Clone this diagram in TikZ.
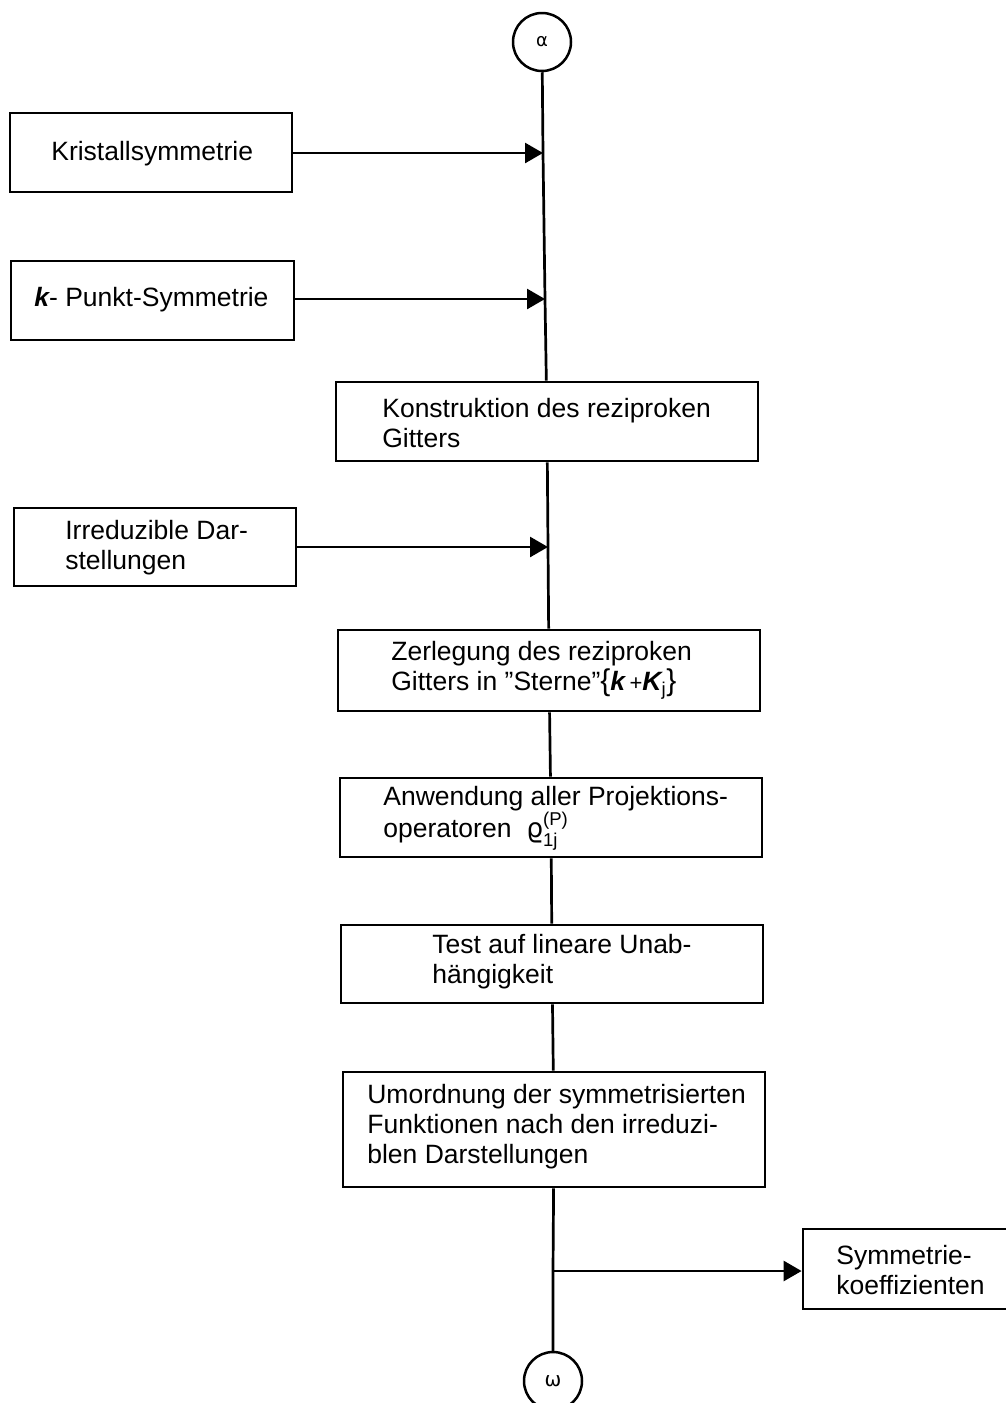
\documentclass[tikz,border=0pt]{standalone}
\usepackage{fontspec}
\usepackage{amsmath}
\setmainfont{Liberation Sans}
\newfontfamily\dvs{DejaVu Sans}
\usetikzlibrary{arrows.meta}
\begin{document}
\begin{tikzpicture}[x=1pt,y=-1pt, line width=2.7pt,
  box/.style={draw, rectangle, inner sep=0pt, line width=2.8pt},
  txt/.style={anchor=west, align=left, inner sep=0pt, font=\fontsize{26.5}{30}\selectfont},
  circ/.style={draw, circle, minimum size=58pt, inner sep=0pt, line width=2.5pt},
  arr/.style={-{Triangle[length=18pt,width=20pt]}}]
\useasboundingbox (0,0) rectangle (1006,1403);

% start / end circles
\node[circ] (alpha) at (542,42) {\dvs\fontsize{18}{18}\selectfont α};
\node[circ] (omega) at (553,1381) {\dvs\fontsize{20}{20}\selectfont ω};

% boxes
\node[box, minimum width=282pt, minimum height=79pt] (b1) at (151,152.5) {};
\node[box, minimum width=283pt, minimum height=79pt] (b2) at (152.5,300.5) {};
\node[box, minimum width=422pt, minimum height=79pt] (b3) at (547,421.5) {};
\node[box, minimum width=282pt, minimum height=78pt] (b4) at (155,547) {};
\node[box, minimum width=422pt, minimum height=81pt] (b5) at (549,670.5) {};
\node[box, minimum width=422pt, minimum height=79pt] (b6) at (551,817.5) {};
\node[box, minimum width=422pt, minimum height=78pt] (b7) at (552,964) {};
\node[box, minimum width=422pt, minimum height=115pt] (b8) at (554,1129.5) {};
\node[box, minimum width=209pt, minimum height=80pt] (b9) at (907.5,1269) {};

% texts
\node[txt] (t1) at (50,154) {Kristallsymmetrie};
\node[txt] (t2) at (33,300) {{\bfseries\itshape k}- Punkt-Symmetrie};
\node[txt] (t3) at (381,423) {Konstruktion des reziproken\\Gitters};
\node[txt] (t4) at (64,548) {Irreduzible Dar-\\stellungen};
\node[txt] (t5) at (390,670) {Zerlegung des reziproken\\Gitters in ''Sterne''{\fontsize{30}{30}\selectfont\{}{\bfseries\itshape k}\,{\fontsize{22}{22}\selectfont +}{\bfseries\itshape K}\textsubscript{j}{\fontsize{30}{30}\selectfont\}}};
\node[txt] (t6) at (382,818) {Anwendung aller Projektions-\\operatoren\ \ {\dvs ϱ}$^{\text{(P)}}_{\text{1j}}$};
\node[txt] (t7) at (431,962) {Test auf lineare Unab-\\hängigkeit};
\node[txt] (t8) at (366,1127) {Umordnung der symmetrisierten\\Funktionen nach den irreduzi-\\blen Darstellungen};
\node[txt] (t9) at (835,1270) {Symmetrie-\\koeffizienten};

% junctions on the main line
\coordinate (j1) at (543,153);
\coordinate (j2) at (545,299);
\coordinate (j3) at (548,547);
\coordinate (j4) at (553,1271);

% main line
\draw (alpha) -- (j1) -- (j2) -- (b3);
\draw (b3) -- (j3) -- (b5);
\draw (b5) -- (b6);
\draw (b6) -- (b7);
\draw (b7) -- (b8);
\draw (b8) -- (j4) -- (omega);

% side arrows
\draw[arr] (b1.east |- j1) -- (j1);
\draw[arr] (b2.east |- j2) -- (j2);
\draw[arr] (b4.east |- j3) -- (j3);
\draw[arr] (j4) -- (b9.west |- j4);
\end{tikzpicture}
\end{document}
